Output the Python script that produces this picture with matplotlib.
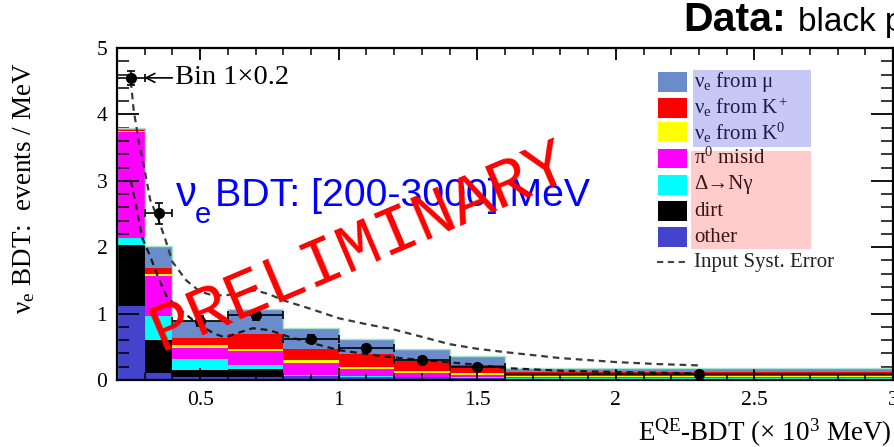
import matplotlib
matplotlib.use("Agg")
import matplotlib.pyplot as plt
from matplotlib.patches import Rectangle
from matplotlib.lines import Line2D
from matplotlib.ticker import MultipleLocator, FuncFormatter
import numpy as np

# reconstructed energy bins, x 10^3 MeV
BIN_EDGES = [0.2, 0.3, 0.4, 0.6, 0.8, 1.0, 1.2, 1.4, 1.6, 3.0]

# stacked MC prediction, events / MeV, bottom -> top
OTHER = [1.11, 0.11, 0.05, 0.05, 0.06, 0.05, 0.04, 0.03, 0.02]
DIRT = [0.92, 0.49, 0.10, 0.11, 0.00, 0.00, 0.00, 0.00, 0.00]
DELTA_NGAMMA = [0.11, 0.36, 0.16, 0.06, 0.02, 0.01, 0.01, 0.01, 0.005]
PI0_MISID = [1.60, 0.61, 0.17, 0.21, 0.17, 0.10, 0.06, 0.04, 0.015]
NUE_K0 = [0.01, 0.03, 0.04, 0.04, 0.05, 0.04, 0.03, 0.03, 0.02]
NUE_KPLUS = [0.02, 0.08, 0.11, 0.23, 0.17, 0.19, 0.15, 0.12, 0.06]
NUE_MU = [0.03, 0.34, 0.28, 0.37, 0.32, 0.22, 0.18, 0.13, 0.055]

# data points (bin 1 drawn x 0.2)
DATA_Y = [4.55, 2.51, 0.89, 0.98, 0.62, 0.48, 0.30, 0.20, 0.09]
DATA_YERR = [0.10, 0.16, 0.07, 0.07, 0.06, 0.05, 0.04, 0.03, 0.01]

# input systematic error envelope
SYST_UP_X = [0.25, 0.26, 0.28, 0.30, 0.32, 0.35, 0.375, 0.40, 0.45, 0.50, 0.55, 0.60,
             0.65, 0.70, 0.75, 0.80, 0.90, 1.00, 1.10, 1.20, 1.30, 1.40, 1.50, 1.60,
             1.80, 2.00, 2.15, 2.30]
SYST_UP_Y = [4.50, 4.07, 3.56, 3.16, 2.71, 2.41, 2.11, 1.78, 1.50, 1.33, 1.27, 1.28,
             1.32, 1.35, 1.29, 1.20, 1.07, 0.93, 0.84, 0.76, 0.65, 0.54, 0.47, 0.42,
             0.33, 0.27, 0.24, 0.22]
SYST_LO_X = [0.25, 0.27, 0.29, 0.32, 0.35, 0.38, 0.43, 0.49, 0.55, 0.59, 0.63, 0.69,
             0.75, 0.82, 0.91, 1.00, 1.15, 1.30, 1.50, 1.60, 1.80, 2.00, 2.30]
SYST_LO_Y = [3.00, 2.60, 2.15, 1.86, 1.53, 1.25, 1.05, 0.85, 0.70, 0.64, 0.70, 0.78,
             0.75, 0.65, 0.55, 0.45, 0.36, 0.30, 0.23, 0.18, 0.14, 0.12, 0.10]

LEGEND_LABELS = [r"ν$_\mathrm{e}$ from μ", r"ν$_\mathrm{e}$ from K$^+$", r"ν$_\mathrm{e}$ from K$^0$",
                 r"π$^0$ misid", "Δ→Nγ", "dirt", "other", "Input Syst. Error"]

W, H = 894, 447


def fx(px):
    return px / W


def fy(py):
    return 1 - py / H


plt.rcParams.update({
    "font.family": ["Liberation Serif", "DejaVu Serif"],
    "mathtext.fontset": "custom",
    "mathtext.rm": "Liberation Serif",
    "mathtext.it": "Liberation Serif:italic",
    "mathtext.bf": "Liberation Serif:bold",
    "mathtext.sf": "Liberation Sans",
})

fig = plt.figure(figsize=(W / 100, H / 100), dpi=100)
fig.patch.set_facecolor("white")
ax = fig.add_axes([fx(117), fy(380), fx(893) - fx(117), fy(48) - fy(380)])

edges = np.array(BIN_EDGES)
widths = np.diff(edges)
centers = edges[:-1] + widths / 2

stack = [OTHER, DIRT, DELTA_NGAMMA, PI0_MISID, NUE_K0, NUE_KPLUS, NUE_MU]
colors = ["#4343cc", "#000000", "#00ffff", "#ff00ff", "#ffff00", "#ff0000", "#6b8cca"]
bottom = np.zeros(len(widths))
for vals, c in zip(stack, colors):
    vals = np.array(vals)
    ax.bar(edges[:-1], vals, width=widths, bottom=bottom, align="edge",
           color=c, linewidth=0, zorder=1)
    bottom = bottom + vals
ax.stairs(bottom, edges, color="#a4e8c8", lw=1.0, zorder=2)

ax.plot(SYST_UP_X, SYST_UP_Y, color="#3a3a3a", lw=1.6, ls=(0, (3, 2.2)), zorder=3)
ax.plot(SYST_LO_X, SYST_LO_Y, color="#1a1a1a", lw=1.6, ls=(0, (3, 2.2)), zorder=3)

ax.errorbar(centers, DATA_Y, xerr=widths / 2, yerr=DATA_YERR, fmt="o", color="black",
            ms=7, lw=1.2, capsize=3, capthick=1.2, zorder=5)

ax.annotate("Bin 1×0.2", xy=(0.298, DATA_Y[0]), xytext=(0.41, DATA_Y[0]),
            fontsize=20.5, va="center", ha="left",
            arrowprops=dict(arrowstyle="->", color="black", lw=1.2,
                            mutation_scale=16, shrinkA=0, shrinkB=0))

ax.set_xlim(0.2, 3.0)
ax.set_ylim(0, 5)
ax.xaxis.set_major_locator(MultipleLocator(0.5))
ax.xaxis.set_minor_locator(MultipleLocator(0.1))
ax.yaxis.set_major_locator(MultipleLocator(1))
ax.yaxis.set_minor_locator(MultipleLocator(0.2))
ax.xaxis.set_major_formatter(FuncFormatter(lambda v, p: f"{v:g}"))
ax.yaxis.set_major_formatter(FuncFormatter(lambda v, p: f"{v:g}"))
ax.tick_params(which="both", direction="in", top=True, right=True, labelsize=15.5)
ax.tick_params(axis="y", which="major", length=16, width=1.3, pad=7)
ax.tick_params(axis="y", which="minor", length=8.5, width=1.1)
ax.tick_params(axis="x", which="major", length=8.5, width=1.3, pad=8)
ax.tick_params(axis="x", which="minor", length=5, width=1.1)
for s in ax.spines.values():
    s.set_linewidth(1.6)
    s.set_zorder(6)

# axis titles
fig.text(fx(24), fy(188), r"ν$_\mathrm{e}$ BDT:  events / MeV", rotation=90,
         ha="center", va="center", fontsize=19.5)
fig.text(fx(892), fy(433), r"E$^\mathrm{QE}$-BDT (× 10$^3$ MeV)",
         ha="right", va="center", fontsize=19.5)

# blue selection label
blue_font = ["Liberation Sans"]
fig.text(fx(176), fy(206), "ν", color="#0000ff", fontsize=30, family=blue_font,
         ha="left", va="baseline")
fig.text(fx(195), fy(223), "e", color="#0000ff", fontsize=21, family=blue_font,
         ha="left", va="baseline")
fig.text(fx(215), fy(206), "BDT: [200-3000] MeV", color="#0000ff", fontsize=28.3,
         family=blue_font, ha="left", va="baseline")

# title, cut by the right edge like the original
fig.text(fx(683), fy(31), "Data:", fontsize=29.5, fontweight="bold",
         family=["Liberation Sans"], ha="left", va="baseline")
fig.text(fx(798), fy(31), "black points", fontsize=24,
         family=["Liberation Sans"], ha="left", va="baseline")

# legend with coloured group backgrounds
fig.add_artist(Rectangle((fx(693), fy(147)), fx(811) - fx(693), fy(70) - fy(147),
                         transform=fig.transFigure, color="#c8c8f7", lw=0, zorder=7))
fig.add_artist(Rectangle((fx(691), fy(249)), fx(811) - fx(691), fy(151) - fy(249),
                         transform=fig.transFigure, color="#ffcccc", lw=0, zorder=7))
row_y = [82, 107.5, 132.5, 158.5, 185, 211.5, 237, 262]
text_colors = ["#1c1c48"] * 3 + ["#3c1414"] * 4 + ["#222222"]
for i, (lab, y) in enumerate(zip(LEGEND_LABELS, row_y)):
    if i < len(colors):
        c = colors[::-1][i]
        fig.add_artist(Rectangle((fx(658), fy(y + 10)), fx(687) - fx(658), fy(y - 10) - fy(y + 10),
                                 transform=fig.transFigure, color=c, lw=0, zorder=8))
    else:
        fig.add_artist(Line2D([fx(657), fx(688)], [fy(y), fy(y)], transform=fig.transFigure,
                              color="#444444", lw=1.5, ls=(0, (3, 2.2)), zorder=8))
    fig.text(fx(694), fy(y), lab, fontsize=15, color=text_colors[i],
             ha="left", va="center", zorder=9)

# watermark
fig.text(fx(360), fy(247), "PRELIMINARY", color="#ff0000", fontsize=49,
         family=["Liberation Mono", "DejaVu Sans Mono"], rotation=23,
         rotation_mode="anchor", ha="center", va="center", zorder=20)

fig.savefig("out.png", dpi=100)
